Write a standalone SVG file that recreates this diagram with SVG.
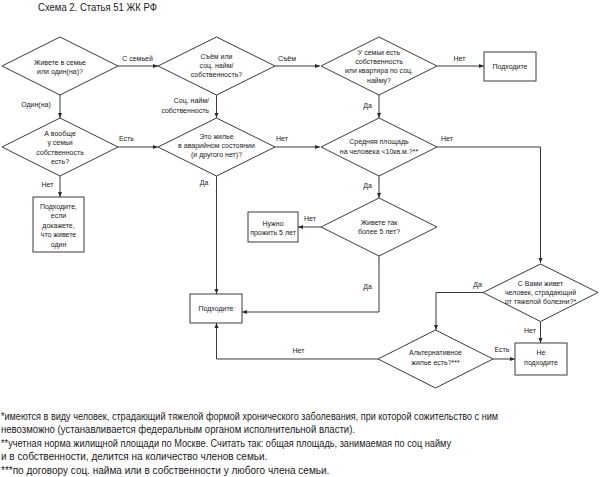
<svg xmlns="http://www.w3.org/2000/svg" width="600" height="477" viewBox="0 0 600 477">
<style>
  .shape { fill: #ffffff; stroke: #3a3a3a; stroke-width: 1; }
  .conn { fill: none; stroke: #3a3a3a; stroke-width: 1; }
  text { font-family: "Liberation Sans", Arial, sans-serif; fill: #1a1a1a; }
  .t { font-size: 7px; text-anchor: middle; }
  .lbl { font-size: 7px; text-anchor: middle; }
  .foot { font-size: 10px; }
  .title { font-size: 10.5px; }
</style>
<defs>
  <marker id="arr" viewBox="0 0 10 10" refX="10" refY="5" markerWidth="5" markerHeight="5" markerUnits="userSpaceOnUse" orient="auto">
    <path d="M0,1 L10,5 L0,9 Z" fill="#2a2a2a"/>
  </marker>
</defs>
<rect width="600" height="477" fill="#ffffff"/>

<text class="title" x="38" y="11" textLength="119" lengthAdjust="spacingAndGlyphs">Схема 2. Статья 51 ЖК РФ</text>

<g id="connectors">
  <path class="conn" d="M118,66 H158" marker-end="url(#arr)"/>
  <path class="conn" d="M275,66 H320" marker-end="url(#arr)"/>
  <path class="conn" d="M437,66 H484" marker-end="url(#arr)"/>
  <path class="conn" d="M60,95 V118" marker-end="url(#arr)"/>
  <path class="conn" d="M216.5,95 V118" marker-end="url(#arr)"/>
  <path class="conn" d="M379,95 V118" marker-end="url(#arr)"/>
  <path class="conn" d="M118,147 H158" marker-end="url(#arr)"/>
  <path class="conn" d="M275,147 H320" marker-end="url(#arr)"/>
  <path class="conn" d="M60,176 V197" marker-end="url(#arr)"/>
  <path class="conn" d="M216.5,176 V294" marker-end="url(#arr)"/>
  <path class="conn" d="M379,176 V198" marker-end="url(#arr)"/>
  <path class="conn" d="M437,147 H540.5 V263" marker-end="url(#arr)"/>
  <path class="conn" d="M321,227 H298" marker-end="url(#arr)"/>
  <path class="conn" d="M379,256 V312 H242" marker-end="url(#arr)"/>
  <path class="conn" d="M483,292.5 H436 V330" marker-end="url(#arr)"/>
  <path class="conn" d="M540.5,321.5 V343" marker-end="url(#arr)"/>
  <path class="conn" d="M493,359 H515" marker-end="url(#arr)"/>
  <path class="conn" d="M378,359 H216.5 V323" marker-end="url(#arr)"/>

  <text class="lbl" x="137.5" y="60.8">С семьей</text>
  <text class="lbl" x="287" y="60.8">Съём</text>
  <text class="lbl" x="459.5" y="60.8">Нет</text>
  <text class="lbl" x="36" y="106.5">Один(на)</text>
  <text class="lbl" x="209" y="103.2" style="text-anchor:end">Соц. найм/</text>
  <text class="lbl" x="209" y="112.5" style="text-anchor:end">собственность</text>
  <text class="lbl" x="367.5" y="107.5">Да</text>
  <text class="lbl" x="126.5" y="140.8">Есть</text>
  <text class="lbl" x="282" y="140.8">Нет</text>
  <text class="lbl" x="447" y="140.8">Нет</text>
  <text class="lbl" x="47.5" y="186.8">Нет</text>
  <text class="lbl" x="204" y="185.2">Да</text>
  <text class="lbl" x="367.5" y="187.5">Да</text>
  <text class="lbl" x="310" y="220.8">Нет</text>
  <text class="lbl" x="367.5" y="289.2">Да</text>
  <text class="lbl" x="477.5" y="286.8">Да</text>
  <text class="lbl" x="530" y="332.5">Нет</text>
  <text class="lbl" x="502" y="351.8">Есть</text>
  <text class="lbl" x="298.5" y="353.2">Нет</text>
</g>

<g id="d1">
  <polygon class="shape" points="60,37 118,66 60,95 2,66"/>
  <text class="t" x="60" y="64.5">Живете в семье</text>
  <text class="t" x="60" y="73.5">или один(на)?</text>
</g>
<g id="d2">
  <polygon class="shape" points="216.5,37 275,66 216.5,95 158,66"/>
  <text class="t" x="216.5" y="59">Съём или</text>
  <text class="t" x="216.5" y="68">соц. найм/</text>
  <text class="t" x="216.5" y="77">собственность?</text>
</g>
<g id="d3">
  <polygon class="shape" points="379,37 437,66 379,95 321,66"/>
  <text class="t" x="379" y="55.2">У семьи есть</text>
  <text class="t" x="379" y="64.2">собственность</text>
  <text class="t" x="379" y="73.4">или квартира по соц.</text>
  <text class="t" x="379" y="82.5">найму?</text>
</g>
<g id="b1">
  <rect class="shape" x="484" y="52" width="52" height="29"/>
  <text class="t" x="510" y="69">Подходите</text>
</g>
<g id="d4">
  <polygon class="shape" points="60,118 118,147 60,176 2,147"/>
  <text class="t" x="60" y="135.5">А вообще</text>
  <text class="t" x="60" y="145">у семьи</text>
  <text class="t" x="60" y="154.5">собственность</text>
  <text class="t" x="60" y="164">есть?</text>
</g>
<g id="d5">
  <polygon class="shape" points="216.5,118 275,147 216.5,176 158,147"/>
  <text class="t" x="216.5" y="139.2">Это жилье</text>
  <text class="t" x="216.5" y="148.2">в аварийном состоянии</text>
  <text class="t" x="216.5" y="156.8">(и другого нет)?</text>
</g>
<g id="d6">
  <polygon class="shape" points="379,118 437,147 379,176 321,147"/>
  <text class="t" x="379" y="144.2">Средняя площадь</text>
  <text class="t" x="379" y="154">на человека &lt;10кв.м.?**</text>
</g>
<g id="b2">
  <rect class="shape" x="33" y="197" width="51" height="55"/>
  <text class="t" x="58.5" y="208.5">Подходите,</text>
  <text class="t" x="58.5" y="218">если</text>
  <text class="t" x="58.5" y="227.5">докажете,</text>
  <text class="t" x="58.5" y="237">что живете</text>
  <text class="t" x="58.5" y="246.5">один</text>
</g>
<g id="d7">
  <polygon class="shape" points="379,198 437,227 379,256 321,227"/>
  <text class="t" x="379" y="225.2">Живете так</text>
  <text class="t" x="379" y="234.2">более 5 лет?</text>
</g>
<g id="b3">
  <rect class="shape" x="248" y="212" width="50" height="30"/>
  <text class="t" x="273" y="225.8">Нужно</text>
  <text class="t" x="273" y="234.8">прожить 5 лет</text>
</g>
<g id="b4">
  <rect class="shape" x="190" y="294" width="52" height="29"/>
  <text class="t" x="216" y="311">Подходите</text>
</g>
<g id="d8">
  <polygon class="shape" points="540.5,264 598,292.5 540.5,321.5 483,292.5"/>
  <text class="t" x="540.5" y="285.8">С Вами живет</text>
  <text class="t" x="540.5" y="295.2">человек, страдающий</text>
  <text class="t" x="540.5" y="304.2">от тяжелой болезни?*</text>
</g>
<g id="d9">
  <polygon class="shape" points="435.5,330 493,359 435.5,388 378,359"/>
  <text class="t" x="435.5" y="355.2">Альтернативное</text>
  <text class="t" x="435.5" y="364.8">жилье есть?***</text>
</g>
<g id="b5">
  <rect class="shape" x="515" y="343" width="52" height="32"/>
  <text class="t" x="541" y="355.2">Не</text>
  <text class="t" x="541" y="364.8">подходите</text>
</g>

<g id="footnotes">
  <text class="foot" x="1" y="419.8" textLength="497" lengthAdjust="spacingAndGlyphs">*имеются в виду человек, страдающий тяжелой формой хронического заболевания, при которой сожительство с ним</text>
  <text class="foot" x="1" y="433.2" textLength="354" lengthAdjust="spacingAndGlyphs">невозможно (устанавливается федеральным органом исполнительной власти).</text>
  <text class="foot" x="1" y="446.6" textLength="450" lengthAdjust="spacingAndGlyphs">**учетная норма жилищной площади по Москве. Считать так: общая площадь, занимаемая по соц найму</text>
  <text class="foot" x="1" y="460">и в собственности, делится на количество членов семьи.</text>
  <text class="foot" x="1" y="473.8">***по договору соц. найма или в собственности у любого члена семьи.</text>
</g>
</svg>
